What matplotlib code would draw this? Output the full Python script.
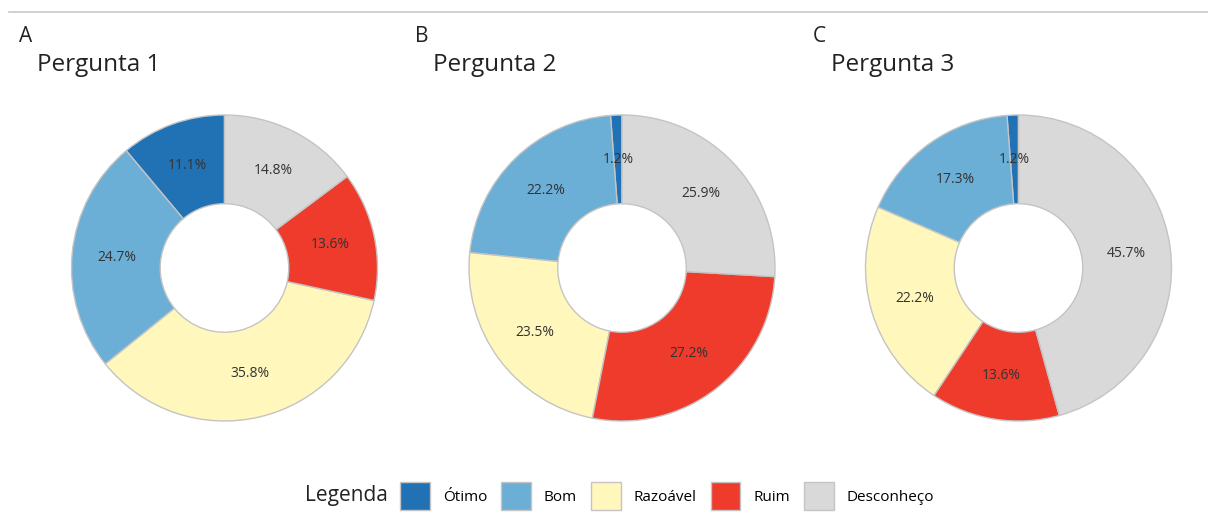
import matplotlib.pyplot as plt
import numpy as np
from matplotlib.lines import Line2D

plt.rcParams['font.family'] = ['Open Sans', 'DejaVu Sans']

categorias = ["Ótimo", "Bom", "Razoável", "Ruim", "Desconheço"]
cores = ["#2171b5", "#6baed6", "#fff7bc", "#ef3b2c", "#d9d9d9"]

letras = ["A", "B", "C"]
titulos = ["Pergunta 1", "Pergunta 2", "Pergunta 3"]
pergunta1 = [11.1, 24.7, 35.8, 13.6, 14.8]
pergunta2 = [1.2, 22.2, 23.5, 27.2, 25.9]
pergunta3 = [1.2, 17.3, 22.2, 13.6, 45.7]
valores = [pergunta1, pergunta2, pergunta3]

W, H = 1208, 515
fig = plt.figure(figsize=(W / 100, H / 100), dpi=100)

# linha cinza no topo
fig.add_artist(Line2D([9 / W, 1], [1 - 12 / H, 1 - 12 / H], color="#c8c8c8", lw=1.2))

centros_x = [224.5, 622, 1018.5]
cy = 268
R = 153
meia = 162
handles = None
for i in range(3):
    cx = centros_x[i]
    ax = fig.add_axes([(cx - meia) / W, 1 - (cy + meia) / H, 2 * meia / W, 2 * meia / H])
    wedges, _ = ax.pie(
        valores[i], colors=cores, startangle=90, counterclock=True, radius=1,
        wedgeprops=dict(width=0.58, edgecolor="#c4c4c4", linewidth=1.0),
    )
    for w in wedges:
        w.set_clip_on(False)
    # rótulos no meio do anel
    ang0 = 90.0
    for v in valores[i]:
        meio = np.deg2rad(ang0 + v * 3.6 / 2)
        ax.text(0.71 * np.cos(meio), 0.71 * np.sin(meio), f"{v:.1f}%",
                ha="center", va="center", fontsize=10, color="#333333")
        ang0 += v * 3.6
    lim = meia / R
    ax.set_xlim(-lim, lim)
    ax.set_ylim(-lim, lim)
    ax.set_aspect("equal")
    ax.axis("off")
    if handles is None:
        handles = wedges

    px = [19, 415, 813][i]
    fig.text(px / W, 1 - 36 / H, letras[i], fontsize=15, color="#222222", ha="left", va="center")
    fig.text((px + 18) / W, 1 - 65 / H, titulos[i], fontsize=17.5, color="#222222", ha="left", va="center")

fig.text(305 / W, 1 - 496 / H, "Legenda", fontsize=15, color="#222222", ha="left", va="center")
leg = fig.legend(handles, categorias, ncol=5, frameon=False,
                 loc="center left", bbox_to_anchor=(400 / W, 1 - 496 / H),
                 fontsize=11, handlelength=1.96, handleheight=2.44,
                 handletextpad=0.85, columnspacing=0.9, borderaxespad=0,
                 borderpad=0)

fig.savefig("out.png", dpi=100)
